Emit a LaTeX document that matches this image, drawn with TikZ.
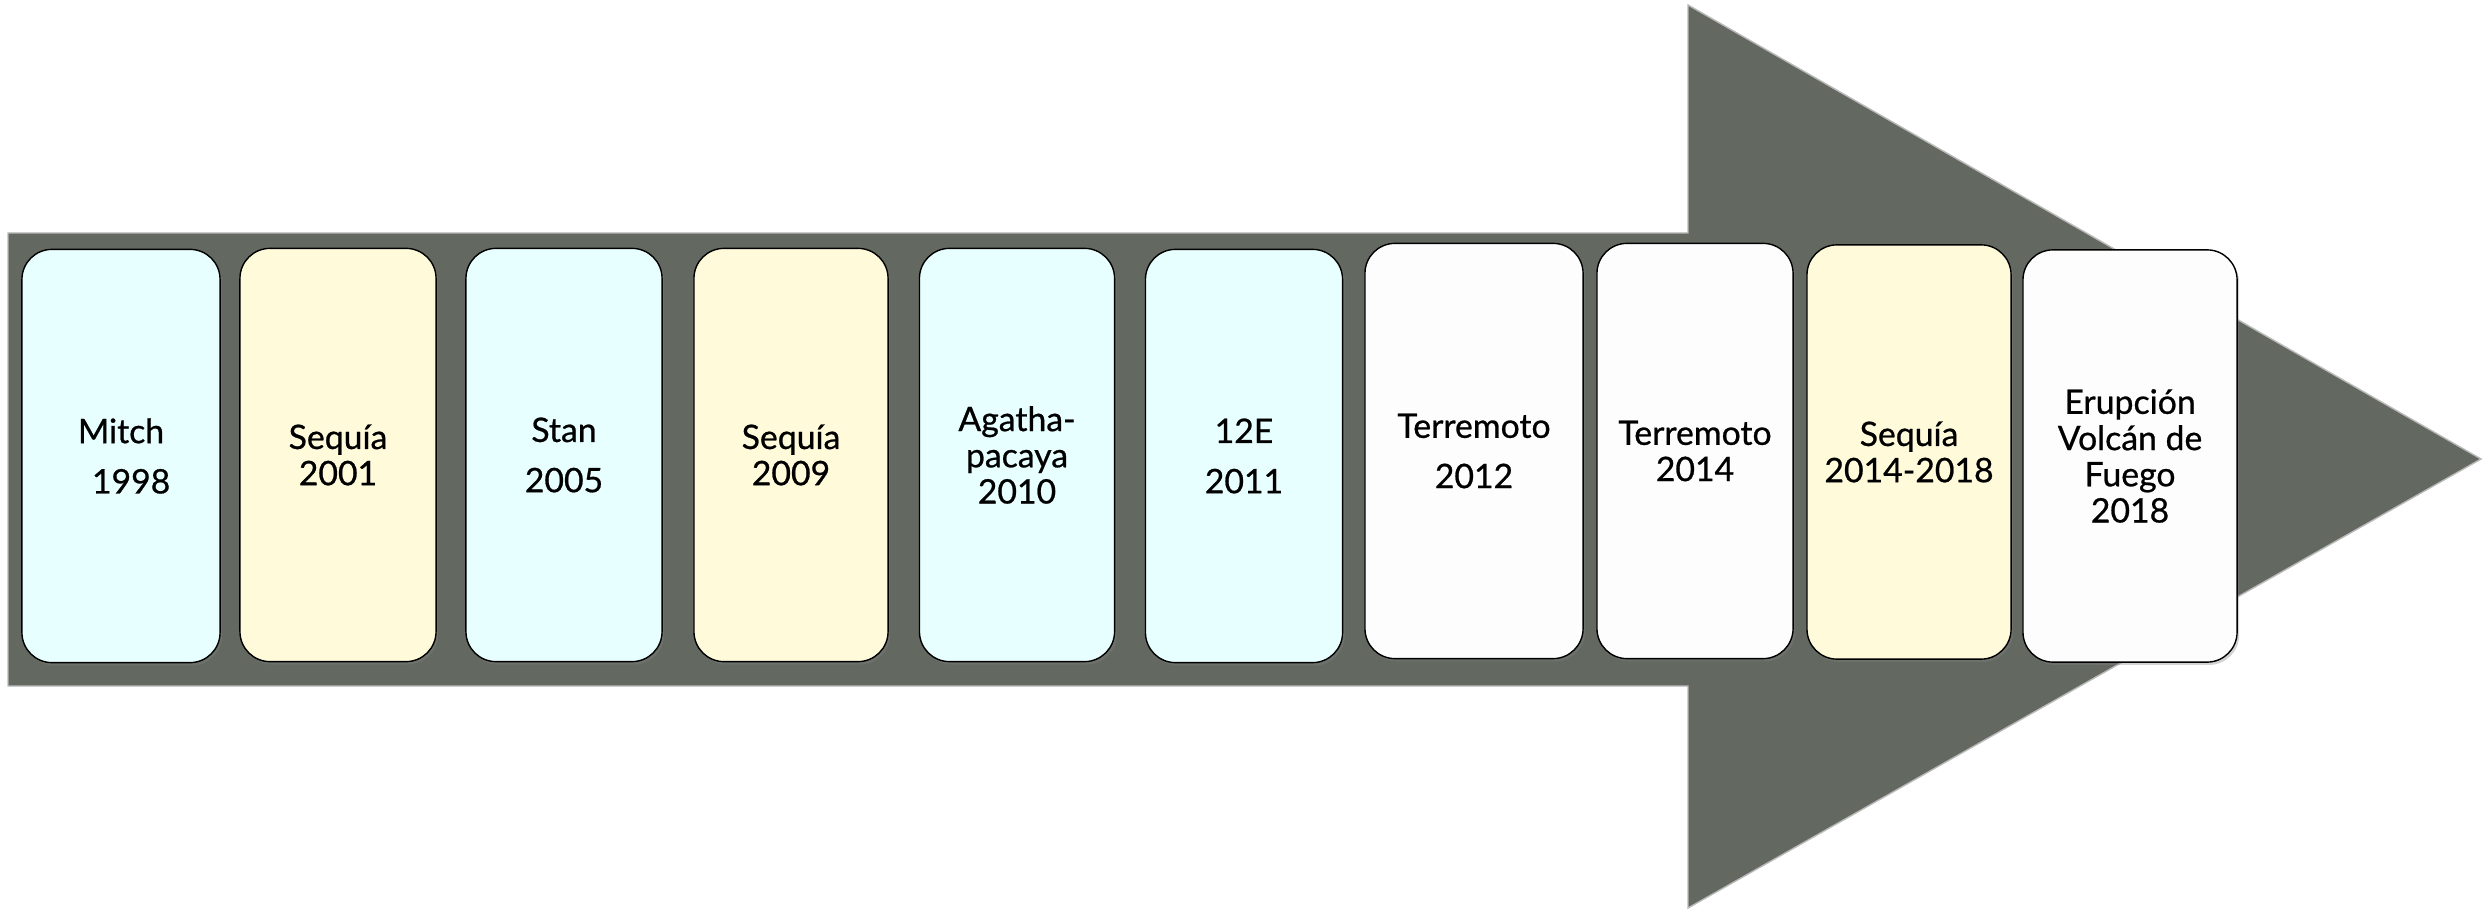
\documentclass[tikz,border=0pt]{standalone}
\usepackage{fontspec}
\setmainfont{Lato}[UprightFeatures={FakeBold=0.7}]
\usepackage{xcolor}
\usetikzlibrary{shadows}

\definecolor{flecha}{RGB}{99,105,96}
\definecolor{celeste}{RGB}{232,255,255}
\definecolor{crema}{RGB}{255,251,218}
\definecolor{blanco}{RGB}{253,253,253}

\begin{document}
\begin{tikzpicture}[x=0.01cm, y=-0.01cm,
  tarjeta/.style={rectangle, rounded corners=0.3cm, draw=black, thin, minimum height=4.13cm, align=center, font=\fontsize{9.6}{10.3}\selectfont, drop shadow={opacity=0.35, shadow xshift=0.6pt, shadow yshift=-0.8pt}}]
\useasboundingbox (0,0) rectangle (2483,910);
% Big arrow behind the cards
\fill[flecha, draw=gray!55, line width=0.4pt] (8,233) -- (1688,233) -- (1688,5) -- (2481,459) -- (1688,908) -- (1688,686) -- (8,686) -- cycle;

% Cards
\node[tarjeta, fill=celeste, minimum width=1.98cm] (mitch) at (121,456) {Mitch\\[4pt]\hspace*{0.6em}1998};
\node[tarjeta, fill=crema, minimum width=1.96cm] (sequiaA) at (338,455) {Sequía\\2001};
\node[tarjeta, fill=celeste, minimum width=1.96cm] (stan) at (564,455) {Stan\\[4pt]2005};
\node[tarjeta, fill=crema, minimum width=1.94cm] (sequiaB) at (791,455) {Sequía\\2009};
\node[tarjeta, fill=celeste, minimum width=1.95cm] (agatha) at (1017,455) {Agatha-\\pacaya\\2010};
\node[tarjeta, fill=celeste, minimum width=1.97cm] (doceE) at (1244,456) {12E\\[4pt]2011};
\node[tarjeta, fill=blanco, minimum width=2.18cm, minimum height=4.15cm] (terremotoA) at (1474,451) {Terremoto\\[4pt]2012};
\node[tarjeta, fill=blanco, minimum width=1.96cm, minimum height=4.15cm] (terremotoB) at (1695,451) {Terremoto\\2014};
\node[tarjeta, fill=crema, minimum width=2.04cm, minimum height=4.14cm] (sequiaC) at (1909,452) {Sequía\\2014-2018};
\node[tarjeta, fill=blanco, minimum width=2.14cm, minimum height=4.12cm] (fuego) at (2130,456) {Erupción\\Volcán de\\Fuego\\2018};
\end{tikzpicture}
\end{document}
